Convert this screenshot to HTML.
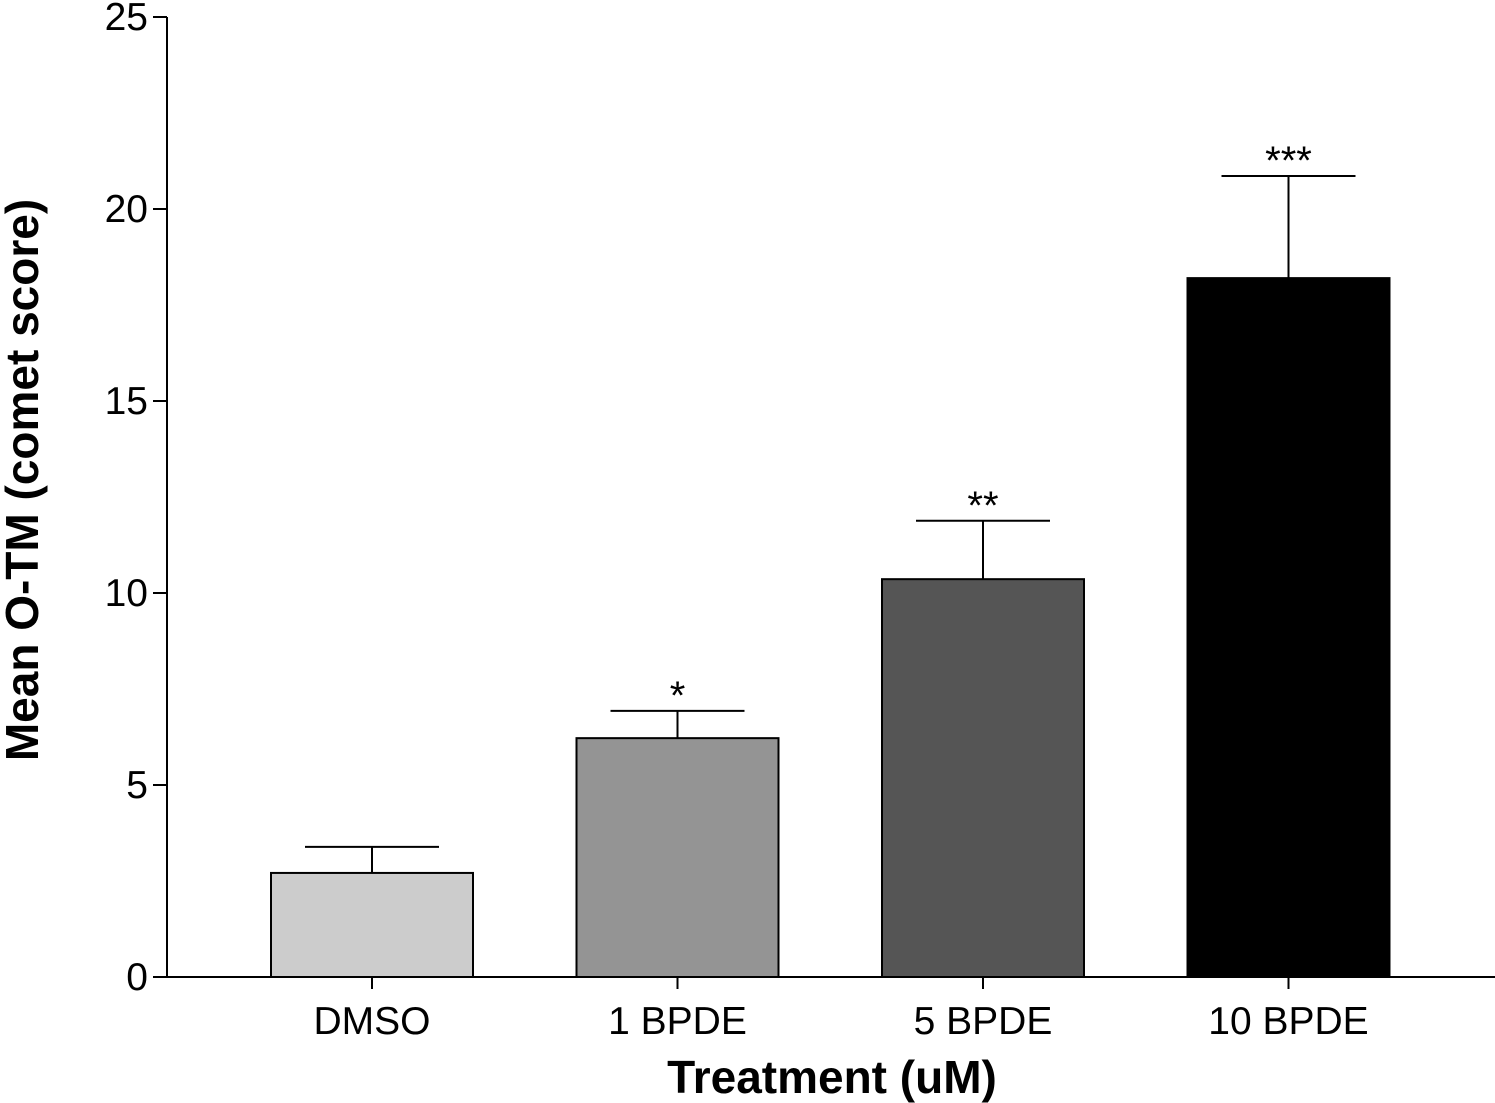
<!DOCTYPE html>
<html><head><meta charset="utf-8"><style>
html,body{margin:0;padding:0;background:#fff;}
svg{display:block;font-family:"Liberation Sans",Arial,sans-serif;}
</style></head><body>
<svg id="chart" width="1495" height="1103" viewBox="0 0 1495 1103">
<g id="axes"></g>
<g id="bars"></g>
<text x="832" y="1093" font-size="46" font-weight="bold" text-anchor="middle">Treatment (uM)</text>
<text transform="translate(38,480) rotate(-90)" font-size="46" font-weight="bold" text-anchor="middle">Mean O-TM (comet score)</text>
</svg>
<script>
const categories = ["DMSO","1 BPDE","5 BPDE","10 BPDE"];
const means = [2.71, 6.22, 10.36, 18.2];
const errors = [0.68, 0.71, 1.52, 2.66];
const stars = ["", "*", "**", "***"];
const colors = ["#cccccc","#949494","#555555","#000000"];
const yTicks = [0,5,10,15,20,25];

const NS="http://www.w3.org/2000/svg";
const y0=977, yTop=17, yMax=25;
const y = v => y0 - (y0-yTop)*v/yMax;
const xCenter = i => 372 + i*305.5;
const barW = 202, capHalf = 67;
function mk(tag, attrs, parent){const e=document.createElementNS(NS,tag);for(const k in attrs)e.setAttribute(k,attrs[k]);parent.appendChild(e);return e;}
const axes=document.getElementById('axes'), bars=document.getElementById('bars');
let el;
el=mk('line',{x1:167,y1:y(yMax),x2:167,y2:y0,stroke:'#000','stroke-width':2},axes);


el=mk('line',{x1:166,y1:y0,x2:1495,y2:y0,stroke:'#000','stroke-width':2},axes);


yTicks.forEach(t=>{
  el=mk('line',{x1:153,y1:y(t),x2:167,y2:y(t),stroke:'#000','stroke-width':2},axes);
  
  
  el=mk('text',{x:148,y:y(t)+13,'font-size':39,'text-anchor':'end'},axes);
  el.textContent=t;
  
  
});
categories.forEach((c,i)=>{
  const cx=xCenter(i), top=y(means[i]), et=y(means[i]+errors[i]);
  el=mk('line',{x1:cx,y1:top,x2:cx,y2:et,stroke:'#000','stroke-width':2},bars);
  
  
  el=mk('line',{x1:cx-capHalf,y1:et,x2:cx+capHalf,y2:et,stroke:'#000','stroke-width':2},bars);
  
  
  el=mk('rect',{x:cx-barW/2,y:top,width:barW,height:y0-top,fill:colors[i],stroke:'#000','stroke-width':2},bars);
  
  
  el=mk('line',{x1:cx,y1:y0,x2:cx,y2:y0+12,stroke:'#000','stroke-width':2},axes);
  
  
  el=mk('text',{x:cx,y:1034,'font-size':39,'text-anchor':'middle'},axes);
  el.textContent=c;
  
  
  if(stars[i]){
    el=mk('text',{x:cx,y:et-2,'font-size':40,'text-anchor':'middle'},bars);
    el.textContent=stars[i];
    
    
  }
});
</script>
</body></html>
